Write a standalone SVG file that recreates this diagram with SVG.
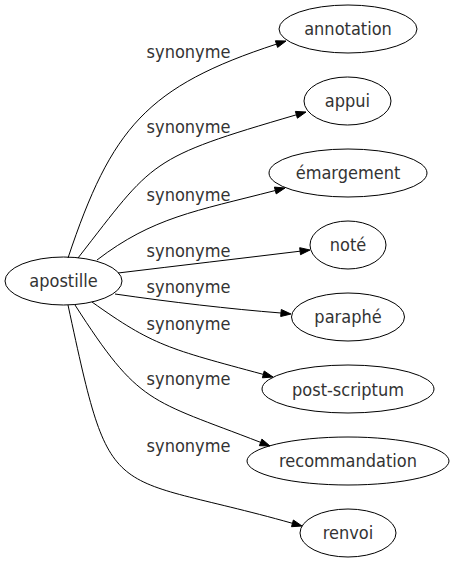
<svg xmlns="http://www.w3.org/2000/svg" width="455" height="563" viewBox="0 0 455 563">
<style>
.node ellipse{fill:none;stroke:#000;stroke-width:1}
text{font-family:"DejaVu Sans Condensed","DejaVu Sans",sans-serif;font-stretch:condensed;font-size:18px;fill:#333;text-anchor:middle}
.edge path{fill:none;stroke:#000;stroke-width:1}
.edge polygon{fill:#000;stroke:#000;stroke-width:1}
</style>
<rect width="455" height="563" fill="#fff"/>
<g id="edges" class="edge">
<path d="M68,258 C111.5,127.7 147,86.4 276.5,44.1"/>
<polygon points="286,41 277.6,47.4 275.4,40.8"/>
<path d="M78,258 C154.4,160.1 147.4,158.3 296.4,114.8"/>
<polygon points="306,112 297.4,118.2 295.4,111.4"/>
<path d="M97,260 C152.7,217.3 195.3,211.2 275.3,190.5"/>
<polygon points="285,188 276.2,193.9 274.4,187.1"/>
<path d="M118,273 C180,265.5 240,258.5 300.1,251.2"/>
<polygon points="310,250 300.5,254.7 299.7,247.7"/>
<path d="M115,294 C170,302 230,309 281,313"/>
<polygon points="291,314 280.7,316.5 281.3,309.5"/>
<path d="M92,302 C153.1,345.6 168.4,348.8 263.3,374.4"/>
<polygon points="273,377 262.4,377.8 264.2,371"/>
<path d="M75,305 C139.4,405.2 148.6,399 260.7,442.4"/>
<polygon points="270,446 259.4,445.7 261.9,439.1"/>
<path d="M68,305 C112,510 105.1,470.6 292.4,523.3"/>
<polygon points="302,526 291.5,526.7 293.4,520"/>
</g>
<g id="edge-labels">
<text x="188.5" y="57.5">synonyme</text>
<text x="188.5" y="132.5">synonyme</text>
<text x="188.5" y="200.5">synonyme</text>
<text x="188.5" y="257">synonyme</text>
<text x="188.5" y="293">synonyme</text>
<text x="188.5" y="330">synonyme</text>
<text x="188.5" y="385">synonyme</text>
<text x="188.5" y="452">synonyme</text>
</g>
<g id="apostille" class="node"><ellipse cx="63.5" cy="281" rx="58.5" ry="24"/><text x="63.5" y="287">apostille</text></g>
<g id="annotation" class="node"><ellipse cx="348" cy="29" rx="69" ry="24"/><text x="348" y="35">annotation</text></g>
<g id="appui" class="node"><ellipse cx="347.5" cy="101" rx="43.5" ry="24"/><text x="347.5" y="107">appui</text></g>
<g id="emargement" class="node"><ellipse cx="348" cy="173" rx="79" ry="24"/><text x="348" y="179">émargement</text></g>
<g id="note" class="node"><ellipse cx="348" cy="245" rx="38" ry="24"/><text x="348" y="251">noté</text></g>
<g id="paraphe" class="node"><ellipse cx="348" cy="317" rx="56.5" ry="24"/><text x="348" y="323">paraphé</text></g>
<g id="post-scriptum" class="node"><ellipse cx="348" cy="389" rx="86" ry="24"/><text x="348" y="395.5">post-scriptum</text></g>
<g id="recommandation" class="node"><ellipse cx="348" cy="461" rx="101" ry="24"/><text x="348" y="467">recommandation</text></g>
<g id="renvoi" class="node"><ellipse cx="348" cy="533" rx="48" ry="24"/><text x="348" y="539">renvoi</text></g>
</svg>
